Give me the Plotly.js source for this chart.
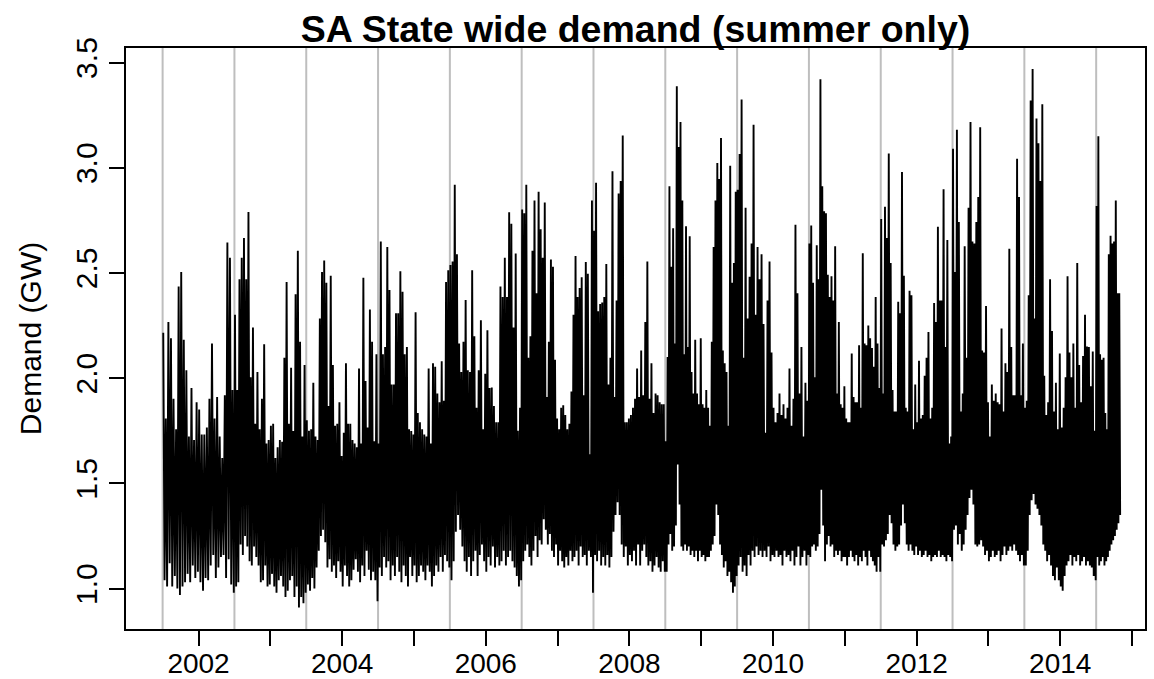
<!DOCTYPE html>
<html>
<head>
<meta charset="utf-8">
<script src="https://cdn.plot.ly/plotly-3.0.1.min.js"></script>
<style>html,body{margin:0;padding:0;background:#fff;}#chart{width:1154px;height:679px;}</style>
</head>
<body>
<div id="chart"></div>
<script>
// Summer periods (year where each summer block starts) and their widths in years
const summerStart = [2001.5, 2002.5, 2003.5, 2004.5, 2005.5, 2006.5, 2007.5, 2008.5, 2009.5, 2010.5, 2011.5, 2012.5, 2013.5, 2014.5];
const summerSpan  = [1, 1, 1, 1, 1, 1, 1, 1, 1, 1, 1, 1, 1, 0.34];

// Peak demand readings (GW) within each summer, in time order
const peaks = [
  [2.216,1.808,2.267,2.19,1.902,1.757,2.436,2.504,2.182,2.038,1.723,1.953,1.706,1.885,1.851,1.732,1.732,1.766,1.902,2.165,1.808,1.910,1.723,1.621,1.919,2.645,2.572,1.944],
  [2.301,1.944,2.470,2.572,2.666,2.470,2.790,2.004,2.241,1.783,2.029,1.757,1.902,2.161,1.689,1.706,1.774,1.783,1.621,1.672,1.706,1.698,2.097,2.457,1.783,2.049,1.749,2.399,2.606,2.173,1.723,2.063],
  [1.80,1.75,1.757,1.978,1.723,1.706,2.284,2.504,2.559,2.453,1.868,2.487,2.063,1.774,1.783,1.885,1.630,1.740,2.071,1.783,1.783,1.706,1.689,1.672,2.046,1.689,2.477,1.987,1.766,2.326,2.173,1.70,2.114],
  [1.689,2.65,2.114,2.148,2.623,2.419,1.970,1.970,2.309,2.309,2.508,2.411,2.114,2.148,1.757,1.749,1.732,2.313,1.834,1.791,1.757,1.732,1.723,2.046,1.689,2.071,2.054,1.927,1.885,2.080,1.893,2.457,2.513],
  [2.538,2.555,2.919,2.589,2.165,2.029,2.173,2.372,2.038,2.029,2.513,2.199,1.859,2.038,2.275,1.757,2.021,2.228,1.953,1.956,1.868,1.791,1.791,2.436,2.386,2.572,2.386,2.788,2.734,2.241,2.593,1.75,1.859],
  [2.801,2.784,2.919,2.097,2.199,2.606,2.844,2.403,2.886,2.708,2.572,2.835,1.910,2.173,2.564,2.530,2.088,1.808,1.757,1.859,1.871,1.825,1.757,1.783,1.936,2.301,2.581,2.386,2.428,2.479,1.919,2.552,2.496,1.638,2.844],
  [2.700,2.929,2.318,2.352,2.360,2.386,2.543,1.970,2.097,2.983,1.910,2.369,2.878,2.937,3.153,1.791,1.791,1.808,1.825,1.859,1.902,2.046,1.910,2.131,1.919,2.267,2.555,1.902,2.071,1.834,1.927,1.919,1.885,1.876,1.876],
  [1.70,2.100,2.912,2.530,2.713,2.165,3.387,3.099,3.217,2.844,2.114,2.722,2.148,2.674,2.029,1.927,2.182,1.927,1.876,2.190,1.876,1.859,1.944,1.859,1.774,2.173,2.623,2.844,3.022,2.946,3.141,2.131,2.071,2.029,1.774,3.010,2.453,2.547,2.886],
  [2.895,3.065,3.324,2.097,2.810,2.284,2.482,2.640,3.204,2.301,2.623,2.470,2.589,2.258,1.740,2.369,2.555,2.122,1.859,1.791,1.834,1.927,1.825,1.876,1.808,1.859,2.046,1.774,1.902,2.729,2.403,1.927,2.148,1.723,1.978,1.893],
  [2.640,2.725,2.453,2.004,2.632,2.470,3.421,2.912,2.793,2.784,2.491,2.386,2.484,2.369,2.627,1.927,2.267,1.876,1.859,1.961,1.808,1.791,1.791,2.117,1.910,1.885,1.885,2.156,1.859,2.594,2.165,2.156,2.250,2.190,2.143,2.054,2.386,2.165,1.953],
  [2.756,1.927,2.815,2.666,3.068,2.547,1.944,1.842,1.842,2.363,2.309,2.980,2.487,1.859,1.842,2.416,2.394,1.757,1.970,1.791,2.083,1.808,1.825,2.012,2.097,2.219,1.808,1.859,2.357,2.267,2.720,2.369,2.369,2.898,2.148,2.657,1.689,1.723],
  [3.090,2.504,3.180,2.742,1.842,1.927,2.627,2.097,2.810,3.217,2.649,2.640,2.742,2.861,3.192,2.131,2.122,2.343,1.885,1.723,1.970,1.893,1.927,1.885,1.876,2.236,1.842,2.071,2.029,2.615,2.148,1.919,1.919,3.043,2.861,1.919,2.165],
  [1.859,1.893,2.394,3.319,3.469,2.284,3.234,3.116,2.937,3.302,2.012,1.825,1.885,2.470,2.224,1.842,1.978,1.757,2.117,1.766,1.859,2.004,2.484,2.122,2.004,2.165,1.859,2.547,2.063,1.885,2.105,2.301,2.151,2.148,1.961,2.127,1.75],
  [2.818,3.150,2.114,2.088,2.097,1.834,1.757,2.589,2.677,2.640,2.649,2.844,2.403,2.403]
];

// Overnight low readings (GW) following each peak
const troughs = [
  [1.04,1.01,1.12,1.01,1.06,1.00,0.97,1.01,1.03,1.07,1.03,1.11,1.05,1.08,1.03,0.99,1.05,1.04,1.11,1.16,1.05,1.10,1.15,1.16,1.05,1.14,1.02,0.98],
  [1.01,1.03,1.21,1.16,1.25,1.20,1.13,1.11,1.20,1.15,1.11,1.03,1.04,1.11,1.01,1.02,1.07,1.01,0.98,1.04,1.06,1.01,0.96,0.99,1.04,1.06,0.96,1.01,0.91,0.96,0.93,0.98],
  [1.02,0.99,1.05,1.00,1.10,1.18,1.25,1.28,1.22,1.10,1.14,1.08,1.11,1.05,1.13,1.08,1.01,1.11,1.06,1.01,1.04,1.09,1.14,1.08,1.03,1.11,1.06,1.18,1.09,1.04,1.08,1.04,0.94],
  [1.10,1.06,1.15,1.10,1.13,1.04,1.11,1.06,1.15,1.08,1.03,1.11,1.06,1.01,1.15,1.06,1.11,1.03,1.06,1.11,1.08,1.04,1.11,1.08,1.01,1.06,1.11,1.08,1.15,1.08,1.16,1.13,1.10],
  [1.04,1.13,1.27,1.35,1.28,1.20,1.13,1.08,1.15,1.06,1.13,1.18,1.06,1.16,1.21,1.13,1.08,1.15,1.11,1.20,1.10,1.15,1.11,1.13,1.18,1.11,1.15,1.18,1.13,1.10,1.06,1.01,1.04],
  [1.13,1.18,1.21,1.15,1.11,1.18,1.25,1.15,1.23,1.21,1.33,1.28,1.21,1.26,1.18,1.15,1.21,1.11,1.18,1.13,1.10,1.15,1.11,1.18,1.13,1.15,1.18,1.11,1.20,1.15,1.16,1.11,1.18,1.15,0.98],
  [1.16,1.13,1.18,1.11,1.15,1.11,1.16,1.10,1.15,1.27,1.35,1.41,1.35,1.21,1.15,1.20,1.11,1.16,1.13,1.18,1.11,1.21,1.11,1.18,1.21,1.15,1.11,1.13,1.08,1.11,1.15,1.10,1.08,1.13,1.08],
  [1.08,1.21,1.26,1.18,1.20,1.30,1.59,1.40,1.20,1.18,1.21,1.18,1.20,1.16,1.18,1.15,1.18,1.13,1.18,1.15,1.16,1.13,1.15,1.15,1.18,1.21,1.25,1.40,1.35,1.21,1.16,1.10,1.13,1.06,1.08,1.03,0.98,1.01,1.06],
  [1.11,1.15,1.08,1.11,1.06,1.16,1.11,1.18,1.15,1.20,1.16,1.18,1.15,1.18,1.15,1.20,1.13,1.16,1.15,1.18,1.15,1.16,1.11,1.18,1.15,1.16,1.13,1.18,1.11,1.15,1.20,1.11,1.15,1.18,1.11,1.16],
  [1.15,1.20,1.21,1.18,1.20,1.26,1.47,1.30,1.13,1.21,1.25,1.20,1.21,1.15,1.18,1.16,1.18,1.13,1.15,1.15,1.11,1.15,1.18,1.15,1.13,1.16,1.11,1.15,1.13,1.18,1.15,1.11,1.18,1.15,1.13,1.11,1.08,1.15,1.08],
  [1.21,1.20,1.23,1.26,1.35,1.31,1.21,1.18,1.20,1.21,1.30,1.40,1.31,1.21,1.18,1.21,1.18,1.16,1.20,1.16,1.18,1.15,1.16,1.18,1.15,1.16,1.13,1.15,1.16,1.15,1.18,1.15,1.16,1.15,1.13,1.16,1.15,1.13],
  [1.28,1.30,1.21,1.26,1.18,1.21,1.28,1.35,1.43,1.47,1.40,1.21,1.20,1.21,1.23,1.20,1.16,1.18,1.13,1.15,1.18,1.15,1.16,1.18,1.13,1.16,1.20,1.16,1.18,1.20,1.18,1.21,1.18,1.16,1.13,1.16,1.11],
  [1.11,1.18,1.35,1.42,1.45,1.40,1.38,1.35,1.30,1.21,1.18,1.13,1.16,1.11,1.06,1.04,1.10,1.04,1.01,0.99,1.06,1.11,1.13,1.16,1.11,1.15,1.13,1.16,1.11,1.13,1.15,1.11,1.13,1.11,1.10,1.06,1.04],
  [1.15,1.11,1.13,1.15,1.11,1.13,1.15,1.18,1.21,1.23,1.25,1.28,1.31,1.35]
];

// Axis ticks
const yearTicks  = [2002,2003,2004,2005,2006,2007,2008,2009,2010,2011,2012,2013,2014,2015];
const yearLabels = ["2002","","2004","","2006","","2008","","2010","","2012","","2014",""];
const demandTicks = [1.0, 1.5, 2.0, 2.5, 3.0, 3.5];
// Grey separators between summers
const summerBreaks = [2001.5,2002.5,2003.5,2004.5,2005.5,2006.5,2007.5,2008.5,2009.5,2010.5,2011.5,2012.5,2013.5,2014.5];

// Build the time series: each reading is a peak followed by its low
const xs = [], ys = [];
summerStart.forEach((s, k) => {
  const n = peaks[k].length;
  const step = summerSpan[k] / n;
  for (let j = 0; j < n; j++) {
    xs.push(s + (j + 0.25) * step); ys.push(peaks[k][j]);
    xs.push(s + (j + 0.75) * step); ys.push(troughs[k][j]);
  }
});

const FONT = '"Liberation Sans", Arial, Helvetica, sans-serif';

const shapes = summerBreaks.map(v => ({
  type: 'line', xref: 'x', yref: 'paper', x0: v, x1: v, y0: 0, y1: 1,
  line: {color: '#bebebe', width: 2}, layer: 'below'
}));

const data = [{
  type: 'scatter', mode: 'lines', x: xs, y: ys,
  line: {color: '#000000', width: 1.9}, hoverinfo: 'x+y', showlegend: false
}];

const layout = {
  width: 1154, height: 679,
  margin: {l: 126, r: 9, t: 48, b: 50, pad: 0},
  paper_bgcolor: '#ffffff', plot_bgcolor: '#ffffff',
  font: {family: FONT, color: '#000000', size: 30},
  title: {
    text: '<b>SA State wide demand (summer only)</b>',
    font: {family: FONT, size: 37.5, color: '#000000'},
    x: 0.5, xref: 'paper', xanchor: 'center',
    y: 1, yref: 'paper', yanchor: 'bottom', pad: {b: 6}
  },
  xaxis: {
    range: [2000.99, 2015.18],
    tickmode: 'array', tickvals: yearTicks, ticktext: yearLabels,
    ticks: 'outside', ticklen: 15, tickwidth: 2, tickcolor: '#000',
    ticklabelstandoff: -7,
    showline: true, linecolor: '#000', linewidth: 2, mirror: true,
    showgrid: false, zeroline: false,
    tickfont: {family: FONT, size: 28, color: '#000'}
  },
  yaxis: {
    range: [0.808, 3.569],
    tickmode: 'array', tickvals: demandTicks, ticktext: demandTicks.map(v => v.toFixed(1)),
    ticks: 'outside', ticklen: 15, tickwidth: 2, tickcolor: '#000',
    tickangle: -90,
    showline: true, linecolor: '#000', linewidth: 2, mirror: true,
    showgrid: false, zeroline: false,
    tickfont: {family: FONT, size: 30, color: '#000'},
    title: {text: 'Demand (GW)', font: {family: FONT, size: 30, color: '#000'}, standoff: 20}
  },
  shapes: shapes
};

Plotly.newPlot('chart', data, layout, {displayModeBar: false, responsive: false});
</script>
</body>
</html>
